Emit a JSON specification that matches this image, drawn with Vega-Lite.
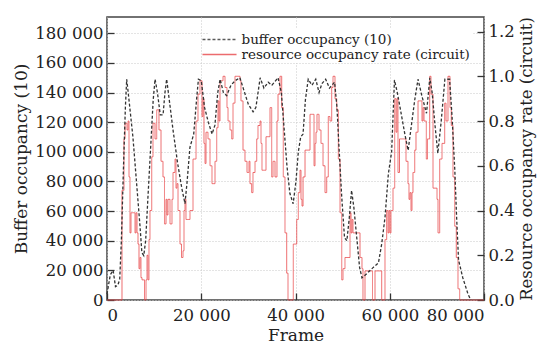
{
  "$schema": "https://vega.github.io/schema/vega-lite/v6.json",
  "width": 377,
  "height": 283,
  "autosize": {"type": "none"},
  "padding": {"left": 107, "top": 17, "right": 54, "bottom": 46},
  "background": "white",
  "config": {
    "font": "DejaVu Serif",
    "view": {"stroke": "#444", "strokeWidth": 1.5},
    "axis": {
      "labelFont": "DejaVu Serif",
      "labelFontSize": 16.5,
      "labelColor": "#222",
      "titleFont": "DejaVu Serif",
      "titleFontSize": 17,
      "titleFontWeight": "normal",
      "titleColor": "#222",
      "domain": false,
      "tickColor": "#333",
      "tickWidth": 1.3,
      "tickSize": -7,
      "labelPadding": 11,
      "gridColor": "#c8c8c8",
      "gridDash": [1, 2],
      "gridWidth": 1
    },
    "legend": {
      "orient": "none",
      "legendX": 102,
      "legendY": 12,
      "symbolType": "M-2.27,0H2.27",
      "symbolSize": 225,
      "symbolStrokeWidth": 1.3,
      "labelFont": "DejaVu Serif",
      "labelFontSize": 13.5,
      "labelColor": "#222",
      "fillColor": "white",
      "padding": 2,
      "rowPadding": 0,
      "labelOffset": 13.5,
      "labelLimit": 400
    }
  },
  "datasets": {
    "buf": [
      {"frame": 0, "value": 4000}, {"frame": 700, "value": 17000}, {"frame": 1300, "value": 20000},
      {"frame": 1800, "value": 9000}, {"frame": 2300, "value": 10000}, {"frame": 2700, "value": 14000},
      {"frame": 3050, "value": 40000}, {"frame": 3500, "value": 90000}, {"frame": 3900, "value": 130000},
      {"frame": 4180, "value": 149000}, {"frame": 4500, "value": 140000}, {"frame": 5000, "value": 125000},
      {"frame": 5500, "value": 110000}, {"frame": 6000, "value": 90000}, {"frame": 6500, "value": 70000},
      {"frame": 7000, "value": 50000}, {"frame": 7400, "value": 32000}, {"frame": 7800, "value": 30000},
      {"frame": 8200, "value": 40000}, {"frame": 8700, "value": 70000}, {"frame": 9300, "value": 105000},
      {"frame": 9800, "value": 135000}, {"frame": 10200, "value": 149000}, {"frame": 10700, "value": 140000},
      {"frame": 11300, "value": 125000}, {"frame": 11900, "value": 125000}, {"frame": 12300, "value": 140000},
      {"frame": 12660, "value": 149000}, {"frame": 13100, "value": 138000}, {"frame": 14000, "value": 115000},
      {"frame": 15000, "value": 92000}, {"frame": 15900, "value": 75000}, {"frame": 16550, "value": 65000},
      {"frame": 17000, "value": 80000}, {"frame": 17600, "value": 103000}, {"frame": 18400, "value": 112000},
      {"frame": 19000, "value": 135000}, {"frame": 19400, "value": 149000}, {"frame": 20000, "value": 148000},
      {"frame": 20700, "value": 130000}, {"frame": 21500, "value": 120000}, {"frame": 22300, "value": 112000},
      {"frame": 22900, "value": 118000}, {"frame": 23500, "value": 140000}, {"frame": 24000, "value": 149000},
      {"frame": 24700, "value": 140000}, {"frame": 25400, "value": 138000}, {"frame": 26300, "value": 145000},
      {"frame": 27200, "value": 148000}, {"frame": 28200, "value": 150000}, {"frame": 29000, "value": 142000},
      {"frame": 30000, "value": 132000}, {"frame": 31000, "value": 127000}, {"frame": 31600, "value": 130000},
      {"frame": 32500, "value": 150000}, {"frame": 33300, "value": 143000}, {"frame": 34200, "value": 147000},
      {"frame": 35000, "value": 145000}, {"frame": 36300, "value": 150000}, {"frame": 37000, "value": 140000},
      {"frame": 37600, "value": 115000}, {"frame": 38200, "value": 90000}, {"frame": 38800, "value": 72000},
      {"frame": 39500, "value": 65000}, {"frame": 40100, "value": 80000}, {"frame": 40600, "value": 100000},
      {"frame": 41100, "value": 110000}, {"frame": 41600, "value": 112000}, {"frame": 42100, "value": 135000},
      {"frame": 42700, "value": 149000}, {"frame": 43500, "value": 145000}, {"frame": 44300, "value": 149000},
      {"frame": 45000, "value": 140000}, {"frame": 45600, "value": 146000}, {"frame": 46400, "value": 149000},
      {"frame": 47200, "value": 143000}, {"frame": 48300, "value": 147000}, {"frame": 48800, "value": 130000},
      {"frame": 49200, "value": 105000}, {"frame": 49800, "value": 70000}, {"frame": 50400, "value": 42000},
      {"frame": 50900, "value": 40000}, {"frame": 51400, "value": 55000}, {"frame": 51900, "value": 74000},
      {"frame": 52400, "value": 62000}, {"frame": 53000, "value": 42000}, {"frame": 53600, "value": 22000},
      {"frame": 54100, "value": 15000}, {"frame": 55200, "value": 18000}, {"frame": 56500, "value": 22000},
      {"frame": 57600, "value": 25000}, {"frame": 58300, "value": 38000}, {"frame": 59000, "value": 56000},
      {"frame": 59700, "value": 85000}, {"frame": 60400, "value": 100000}, {"frame": 61000, "value": 148500},
      {"frame": 61600, "value": 140000}, {"frame": 62300, "value": 128000}, {"frame": 63200, "value": 112000},
      {"frame": 63900, "value": 101000}, {"frame": 64600, "value": 118000}, {"frame": 65300, "value": 135000},
      {"frame": 66000, "value": 149000}, {"frame": 66800, "value": 138000}, {"frame": 67800, "value": 126000},
      {"frame": 68500, "value": 150000}, {"frame": 69000, "value": 140000}, {"frame": 69600, "value": 118000},
      {"frame": 70200, "value": 99000}, {"frame": 70900, "value": 120000}, {"frame": 71700, "value": 149000},
      {"frame": 72700, "value": 149000}, {"frame": 73200, "value": 125000}, {"frame": 73800, "value": 88000},
      {"frame": 74200, "value": 55000}, {"frame": 74600, "value": 27000}, {"frame": 75500, "value": 15000},
      {"frame": 76600, "value": 4000}, {"frame": 77200, "value": 0}
    ],
    "res": [
      {"frame": 0, "value": 0}, {"frame": 2970, "value": 0}, {"frame": 3180, "value": 0.49},
      {"frame": 3600, "value": 0.72}, {"frame": 3820, "value": 0.79}, {"frame": 4240, "value": 0.76},
      {"frame": 4460, "value": 0.8}, {"frame": 4670, "value": 0.55}, {"frame": 4880, "value": 0.3},
      {"frame": 5090, "value": 0.39}, {"frame": 5940, "value": 0.3}, {"frame": 6150, "value": 0.39},
      {"frame": 6370, "value": 0.3}, {"frame": 6580, "value": 0.25}, {"frame": 6790, "value": 0.14},
      {"frame": 7000, "value": 0.19}, {"frame": 7210, "value": 0.1}, {"frame": 7430, "value": 0.09},
      {"frame": 7960, "value": 0}, {"frame": 8280, "value": 0.09}, {"frame": 8490, "value": 0.2},
      {"frame": 8700, "value": 0.09}, {"frame": 8910, "value": 0.27}, {"frame": 9120, "value": 0.4},
      {"frame": 9490, "value": 0.64}, {"frame": 9760, "value": 0.79}, {"frame": 10190, "value": 0.72},
      {"frame": 10550, "value": 0.85}, {"frame": 11030, "value": 0.76}, {"frame": 11460, "value": 0.62},
      {"frame": 11880, "value": 0.55}, {"frame": 12200, "value": 0.34}, {"frame": 12520, "value": 0.45},
      {"frame": 12730, "value": 0.38}, {"frame": 12940, "value": 0.45}, {"frame": 13370, "value": 0.34},
      {"frame": 13790, "value": 0.45}, {"frame": 14010, "value": 0.57}, {"frame": 14430, "value": 0.63},
      {"frame": 14640, "value": 0.5}, {"frame": 14850, "value": 0.52}, {"frame": 15070, "value": 0.4},
      {"frame": 15490, "value": 0.25}, {"frame": 15810, "value": 0.19}, {"frame": 16130, "value": 0.22},
      {"frame": 16340, "value": 0.4}, {"frame": 16550, "value": 0.45}, {"frame": 16760, "value": 0.36},
      {"frame": 17610, "value": 0.4}, {"frame": 18250, "value": 0.63}, {"frame": 18890, "value": 0.8},
      {"frame": 19310, "value": 0.92}, {"frame": 19730, "value": 0.98}, {"frame": 20160, "value": 0.82},
      {"frame": 20370, "value": 0.9}, {"frame": 20580, "value": 0.7}, {"frame": 20800, "value": 0.61},
      {"frame": 21010, "value": 0.75}, {"frame": 21430, "value": 0.72}, {"frame": 21860, "value": 0.6},
      {"frame": 22280, "value": 0.52}, {"frame": 22920, "value": 0.62}, {"frame": 23280, "value": 0.77},
      {"frame": 23560, "value": 0.89}, {"frame": 23770, "value": 0.8}, {"frame": 23980, "value": 0.98},
      {"frame": 24620, "value": 1.0}, {"frame": 25040, "value": 0.95}, {"frame": 25460, "value": 0.86},
      {"frame": 25680, "value": 0.8}, {"frame": 26100, "value": 0.76}, {"frame": 26460, "value": 0.72},
      {"frame": 26740, "value": 0.88}, {"frame": 27160, "value": 1.0}, {"frame": 28220, "value": 0.98},
      {"frame": 28430, "value": 0.89}, {"frame": 28860, "value": 0.67}, {"frame": 29280, "value": 0.62},
      {"frame": 29710, "value": 0.57}, {"frame": 30130, "value": 0.62}, {"frame": 30340, "value": 0.52},
      {"frame": 30700, "value": 0.48}, {"frame": 30980, "value": 0.57}, {"frame": 31410, "value": 0.62},
      {"frame": 31770, "value": 0.72}, {"frame": 32040, "value": 0.78}, {"frame": 32470, "value": 0.8},
      {"frame": 32680, "value": 0.7}, {"frame": 32890, "value": 0.58}, {"frame": 33740, "value": 0.73},
      {"frame": 34590, "value": 0.86}, {"frame": 34950, "value": 0.55}, {"frame": 35230, "value": 0.62},
      {"frame": 35650, "value": 0.55}, {"frame": 36070, "value": 0.8}, {"frame": 36290, "value": 0.92},
      {"frame": 36710, "value": 1.0}, {"frame": 37070, "value": 0.86}, {"frame": 37410, "value": 0.55},
      {"frame": 37770, "value": 0.3}, {"frame": 38130, "value": 0.12}, {"frame": 38410, "value": 0},
      {"frame": 39530, "value": 0.25}, {"frame": 40260, "value": 0.36}, {"frame": 40600, "value": 0.48},
      {"frame": 40950, "value": 0.58}, {"frame": 41170, "value": 0.45}, {"frame": 41380, "value": 0.42},
      {"frame": 41600, "value": 0.55}, {"frame": 42020, "value": 0.67}, {"frame": 43080, "value": 0.83},
      {"frame": 43930, "value": 0.6}, {"frame": 44140, "value": 0.7}, {"frame": 44350, "value": 0.75},
      {"frame": 44560, "value": 0.83}, {"frame": 44990, "value": 0.76}, {"frame": 45410, "value": 0.7},
      {"frame": 45840, "value": 0.6}, {"frame": 46260, "value": 0.48}, {"frame": 46620, "value": 0.55},
      {"frame": 46960, "value": 0.82}, {"frame": 47320, "value": 0.8}, {"frame": 47680, "value": 0.95},
      {"frame": 47960, "value": 1.0}, {"frame": 48380, "value": 0.9}, {"frame": 48750, "value": 0.85},
      {"frame": 49090, "value": 0.63}, {"frame": 49450, "value": 0.39}, {"frame": 49810, "value": 0.09},
      {"frame": 50080, "value": 0.14}, {"frame": 50500, "value": 0.19}, {"frame": 51570, "value": 0.39},
      {"frame": 51780, "value": 0.3}, {"frame": 51990, "value": 0.36}, {"frame": 52200, "value": 0.3},
      {"frame": 53690, "value": 0.19}, {"frame": 54110, "value": 0.14}, {"frame": 54320, "value": 0},
      {"frame": 54750, "value": 0.13}, {"frame": 56340, "value": 0}, {"frame": 56870, "value": 0.13},
      {"frame": 58290, "value": 0}, {"frame": 58990, "value": 0.27}, {"frame": 59350, "value": 0.4},
      {"frame": 59630, "value": 0.3}, {"frame": 59840, "value": 0.4}, {"frame": 60050, "value": 0.3},
      {"frame": 60260, "value": 0.4}, {"frame": 60690, "value": 0.5}, {"frame": 61050, "value": 0.9},
      {"frame": 61330, "value": 0.75}, {"frame": 61540, "value": 0.9}, {"frame": 61750, "value": 0.57},
      {"frame": 62070, "value": 0.72}, {"frame": 63450, "value": 0.62}, {"frame": 63870, "value": 0.52},
      {"frame": 64080, "value": 0.45}, {"frame": 64290, "value": 0.48}, {"frame": 64510, "value": 0.4},
      {"frame": 64720, "value": 0.48}, {"frame": 64930, "value": 0.57}, {"frame": 65300, "value": 0.67},
      {"frame": 65570, "value": 0.75}, {"frame": 66000, "value": 0.89}, {"frame": 66840, "value": 0.8},
      {"frame": 67050, "value": 0.86}, {"frame": 67270, "value": 0.8}, {"frame": 67760, "value": 0.63},
      {"frame": 68010, "value": 0.72}, {"frame": 68480, "value": 1.0}, {"frame": 68750, "value": 0.92},
      {"frame": 69180, "value": 0.5}, {"frame": 70030, "value": 0.45}, {"frame": 70240, "value": 0.3},
      {"frame": 70600, "value": 0.63}, {"frame": 71090, "value": 0.7}, {"frame": 71660, "value": 0.88},
      {"frame": 71940, "value": 0.8}, {"frame": 72360, "value": 1.0}, {"frame": 72780, "value": 0.86},
      {"frame": 73060, "value": 0.78}, {"frame": 73420, "value": 0.55}, {"frame": 73780, "value": 0.33},
      {"frame": 74120, "value": 0.19}, {"frame": 74480, "value": 0.05}, {"frame": 74840, "value": 0},
      {"frame": 80000, "value": 0}
    ]
  },
  "encoding": {
    "x": {
      "field": "frame",
      "type": "quantitative",
      "scale": {"domain": [0, 80000], "nice": false},
      "axis": {
        "title": "Frame",
        "values": [0, 20000, 40000, 60000, 80000],
        "labelExpr": "replace(format(datum.value, ','), ',', ' ')",
        "grid": true,
        "labelPadding": 14,
        "titlePadding": 4
      }
    }
  },
  "layer": [
    {
      "data": {"name": "res"},
      "mark": {"type": "line", "interpolate": "step-after", "strokeWidth": 1, "opacity": 0.8},
      "encoding": {
        "y": {
          "field": "value",
          "type": "quantitative",
          "scale": {"domain": [0, 1.265], "nice": false},
          "axis": {
            "orient": "right",
            "title": "Resource occupancy rate (circuit)",
            "titleAngle": 270,
            "titleFontSize": 16.5,
            "titleBaseline": "top",
            "values": [0, 0.2, 0.4, 0.6, 0.8, 1.0, 1.2],
            "format": ".1f",
            "grid": false,
            "titlePadding": 4
          }
        },
        "color": {
          "datum": "resource occupancy rate (circuit)",
          "scale": {
            "domain": ["buffer occupancy (10)", "resource occupancy rate (circuit)"],
            "range": ["#333333", "#e8474a"]
          },
          "legend": {"title": null}
        },
        "strokeDash": {
          "datum": "resource occupancy rate (circuit)",
          "scale": {
            "domain": ["buffer occupancy (10)", "resource occupancy rate (circuit)"],
            "range": [[3, 2], [1, 0]]
          },
          "legend": {"title": null}
        }
      }
    },
    {
      "data": {"name": "buf"},
      "mark": {"type": "line", "strokeWidth": 1.3},
      "encoding": {
        "y": {
          "field": "value",
          "type": "quantitative",
          "scale": {"domain": [0, 191000], "nice": false},
          "axis": {
            "orient": "left",
            "title": "Buffer occupancy (10)",
            "values": [0, 20000, 40000, 60000, 80000, 100000, 120000, 140000, 160000, 180000],
            "labelExpr": "replace(format(datum.value, ','), ',', ' ')",
            "grid": true,
            "titlePadding": 4
          }
        },
        "color": {"datum": "buffer occupancy (10)"},
        "strokeDash": {"datum": "buffer occupancy (10)"}
      }
    }
  ],
  "resolve": {"scale": {"y": "independent"}, "axis": {"y": "independent"}}
}
